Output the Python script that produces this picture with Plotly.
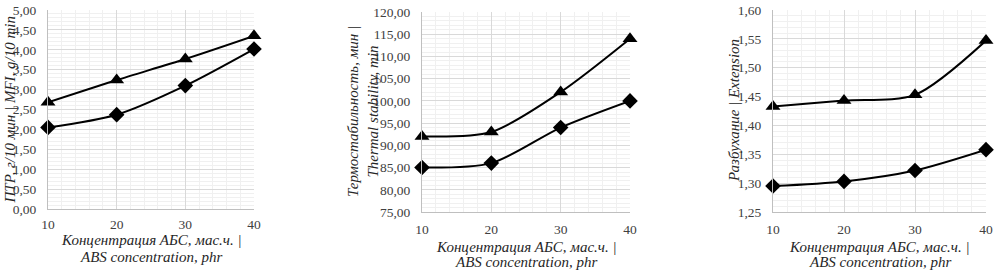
import plotly.graph_objects as go

conc = [10, 20, 30, 40]

mfi_tri = [2.68, 3.24, 3.77, 4.35]
mfi_dia = [2.05, 2.37, 3.10, 4.02]

therm_tri = [92.0, 93.0, 102.0, 114.0]
therm_dia = [85.0, 86.0, 94.0, 100.0]

ext_tri = [1.433, 1.443, 1.453, 1.547]
ext_dia = [1.295, 1.303, 1.322, 1.358]

y_titles = [
    "ПТР, г/10 мин | MFI, g/10 min",
    "Термостабильность, мин |<br>Thermal stability, min",
    "Разбухание | Extension",
]
x_title_lines = ["Концентрация АБС, мас.ч. |", "ABS concentration, phr"]

W, H = 994, 271
FONT = "Liberation Serif"

# pixel boxes for each panel: (x0, x1, ytop, ybottom)
boxes = [(48, 254, 10, 209), (422, 630, 12, 212), (773, 986, 10, 212)]
xlab_standoff = [3, 5, 5]
xtitle_rows = [(240, 257), (247, 262), (247, 262)]
yranges = [(0, 5), (75, 120), (1.25, 1.60)]
ydticks = [0.5, 5, 0.05]

series = [(mfi_tri, mfi_dia), (therm_tri, therm_dia), (ext_tri, ext_dia)]

fig = go.Figure()
for i, ((tri, dia), box, yr, dt) in enumerate(zip(series, boxes, yranges, ydticks)):
    n = "" if i == 0 else str(i + 1)
    xa, ya = "x" + n, "y" + n
    for vals, sym, sz in ((tri, "triangle-up", 13), (dia, "diamond", 12)):
        fig.add_trace(go.Scatter(
            x=conc, y=vals, xaxis=xa, yaxis=ya, mode="lines+markers",
            line=dict(color="black", width=2, shape="spline", smoothing=0.8),
            marker=dict(symbol=sym, size=sz, color="black"),
            showlegend=False, cliponaxis=False,
        ))
    x0, x1, yt, yb = box
    fig.layout["xaxis" + n] = dict(
        domain=[x0 / W, x1 / W], range=[10, 40], dtick=10, anchor=ya,
        showgrid=True, gridcolor="#d9d9d9", gridwidth=1,
        minor=dict(dtick=2, showgrid=True, gridcolor="#f0f0f0", gridwidth=1),
        showline=True, linecolor="#bfbfbf", linewidth=1,
        ticks="", zeroline=False, automargin=False,
        ticklabelstandoff=xlab_standoff[i],
        tickfont=dict(family=FONT, size=13.5, color="#404040"),
    )
    fig.layout["yaxis" + n] = dict(
        domain=[1 - yb / H, 1 - yt / H], range=list(yr), dtick=dt, anchor=xa,
        tickformat=".2f",
        showgrid=True, gridcolor="#d9d9d9", gridwidth=1,
        minor=dict(dtick=dt / 5, showgrid=True, gridcolor="#f0f0f0", gridwidth=1),
        showline=True, linecolor="#bfbfbf", linewidth=1,
        ticks="", ticklabelstandoff=8,
        zeroline=False, automargin=False,
        tickfont=dict(family=FONT, size=13.5, color="#404040"),
    )
    for line_text, ypix in zip(x_title_lines, xtitle_rows[i]):
        fig.add_annotation(
            text=line_text,
            x=(x0 + x1) / 2 / W, y=1 - ypix / H, xref="paper", yref="paper",
            showarrow=False, borderpad=0,
            font=dict(family=FONT, size=15, color="#262626", style="italic"),
            xanchor="center", yanchor="middle", align="center",
        )

ytitle_x = [10, 363, 734]
for i, (t, xp) in enumerate(zip(y_titles, ytitle_x)):
    x0, x1, yt, yb = boxes[i]
    fig.add_annotation(
        text=t,
        x=xp / W, y=1 - (yt + yb) / 2 / H, xref="paper", yref="paper",
        showarrow=False, textangle=-90, borderpad=0,
        font=dict(family=FONT, size=15, color="#262626", style="italic"),
        xanchor="center", yanchor="middle", align="center",
    )

fig.update_layout(
    width=W, height=H,
    margin=dict(l=0, r=0, t=0, b=0, autoexpand=False),
    paper_bgcolor="white", plot_bgcolor="white",
    separators=", ",
)

fig.write_html("out.html", config={"displayModeBar": False},
               post_script="document.body.style.margin='0';")
